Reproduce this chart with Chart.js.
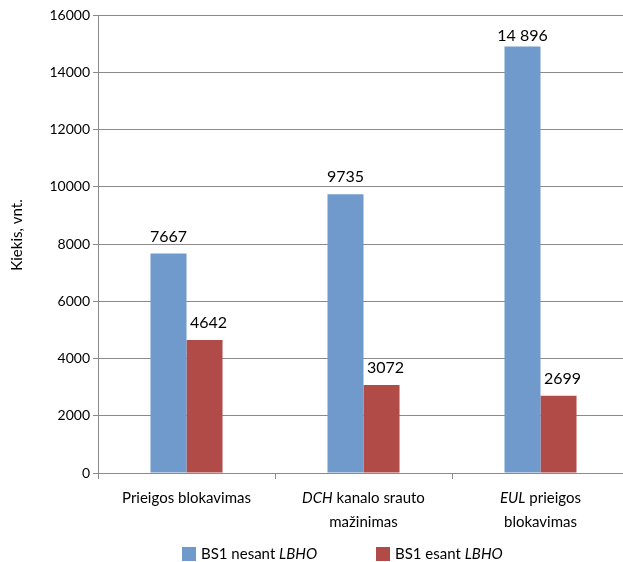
<!DOCTYPE html>
<html>
<head>
<meta charset="utf-8">
<script src="https://cdn.jsdelivr.net/npm/chart.js@4.4.1/dist/chart.umd.min.js"></script>
<style>
html,body{margin:0;padding:0;background:#fff;overflow:hidden;}
#wrap{width:629px;height:562px;}
</style>
</head>
<body>
<div id="wrap"><canvas id="c" width="629" height="562"></canvas></div>
<script>
// Categories: each is a list of lines; each line is a list of [text, italic] segments
const categories = [
  [[["Prieigos blokavimas", false]]],
  [[["DCH", true], [" kanalo srauto", false]], [["mažinimas", false]]],
  [[["EUL", true], [" prieigos", false]], [["blokavimas", false]]]
];
const categoryKeys = ["Prieigos blokavimas", "DCH kanalo srauto mažinimas", "EUL prieigos blokavimas"];
const seriesNames = [
  [["BS1 nesant ", false], ["LBHO", true]],
  [["BS1 esant ", false], ["LBHO", true]]
];
const seriesWithout = [7667, 9735, 14896];
const seriesWith = [4642, 3072, 2699];
const yTicks = [0, 2000, 4000, 6000, 8000, 10000, 12000, 14000, 16000];
const yTitle = "Kiekis, vnt.";

const colors = ["#6F9ACB", "#B04B48"];
const FONT = "Lato, 'Open Sans', sans-serif";
const GRID = "#8a8a8a";

function fmt(n){
  const s = String(n);
  return n >= 10000 ? s.replace(/\B(?=(\d{3})+(?!\d))/g, " ") : s;
}
function segWidth(ctx, segs, size){
  let w = 0;
  for (const [t, it] of segs){ ctx.font = (it ? "italic " : "") + size + "px " + FONT; w += ctx.measureText(t).width; }
  return w;
}
function drawSegs(ctx, segs, x, y, size){
  ctx.textAlign = "left";
  for (const [t, it] of segs){
    ctx.font = (it ? "italic " : "") + size + "px " + FONT;
    ctx.fillText(t, x, y);
    x += ctx.measureText(t).width;
  }
}

const customDraw = {
  id: "customDraw",
  afterDraw(chart){
    const ctx = chart.ctx;
    ctx.save();
    ctx.fillStyle = "#000";
    ctx.textBaseline = "alphabetic";
    // data labels
    chart.data.datasets.forEach((ds, di) => {
      const meta = chart.getDatasetMeta(di);
      meta.data.forEach((el, i) => {
        ctx.font = "16px " + FONT;
        ctx.textAlign = "center";
        const y = Math.max(el.y - 12, 41);
        ctx.fillText(fmt(ds.data[i]), el.x + (di === 1 ? 4 : 0), y);
      });
    });
    // category labels
    const xs = chart.scales.x;
    categories.forEach((lines, i) => {
      const cx = xs.getPixelForValue(i);
      lines.forEach((segs, li) => {
        const w = segWidth(ctx, segs, 15);
        drawSegs(ctx, segs, cx - w / 2, 503 + li * 24, 15);
      });
    });
    // y title
    ctx.save();
    ctx.translate(22, 235);
    ctx.rotate(-Math.PI / 2);
    ctx.font = "15px " + FONT;
    ctx.textAlign = "center";
    ctx.fillText(yTitle, 0, 0);
    ctx.restore();
    // legend
    const legendPos = [[182, 201], [376, 395]];
    seriesNames.forEach((segs, i) => {
      ctx.fillStyle = colors[i];
      ctx.fillRect(legendPos[i][0], 547, 14, 14);
      ctx.fillStyle = "#000";
      drawSegs(ctx, segs, legendPos[i][1], 559, 15);
    });
    ctx.restore();
  }
};

new Chart(document.getElementById("c"), {
  type: "bar",
  data: {
    labels: categoryKeys,
    datasets: [
      { label: "BS1 nesant LBHO", data: seriesWithout, backgroundColor: colors[0], categoryPercentage: 0.407, barPercentage: 1.0 },
      { label: "BS1 esant LBHO", data: seriesWith, backgroundColor: colors[1], categoryPercentage: 0.407, barPercentage: 1.0 }
    ]
  },
  options: {
    responsive: false,
    animation: false,
    events: [],
    layout: { padding: { top: 15, right: 0, left: 0, bottom: 0 } },
    plugins: { legend: { display: false }, tooltip: { enabled: false }, title: { display: false } },
    scales: {
      x: {
        offset: true,
        grid: { display: true, drawOnChartArea: false, offset: true, tickLength: 6, color: GRID, lineWidth: 1 },
        border: { display: true, color: GRID, width: 1 },
        ticks: { display: false },
        afterFit(s){ s.height = 89; }
      },
      y: {
        min: 0, max: 16000,
        afterBuildTicks(s){ s.ticks = yTicks.map(v => ({ value: v })); },
        grid: { display: true, color: GRID, lineWidth: 1, tickLength: 5 },
        border: { display: true, color: GRID, width: 1 },
        ticks: { font: { family: FONT, size: 14 }, color: "#000", padding: 3, callback: v => String(v) },
        afterFit(s){ s.width = 98; }
      }
    }
  },
  plugins: [customDraw]
});
</script>
</body>
</html>
